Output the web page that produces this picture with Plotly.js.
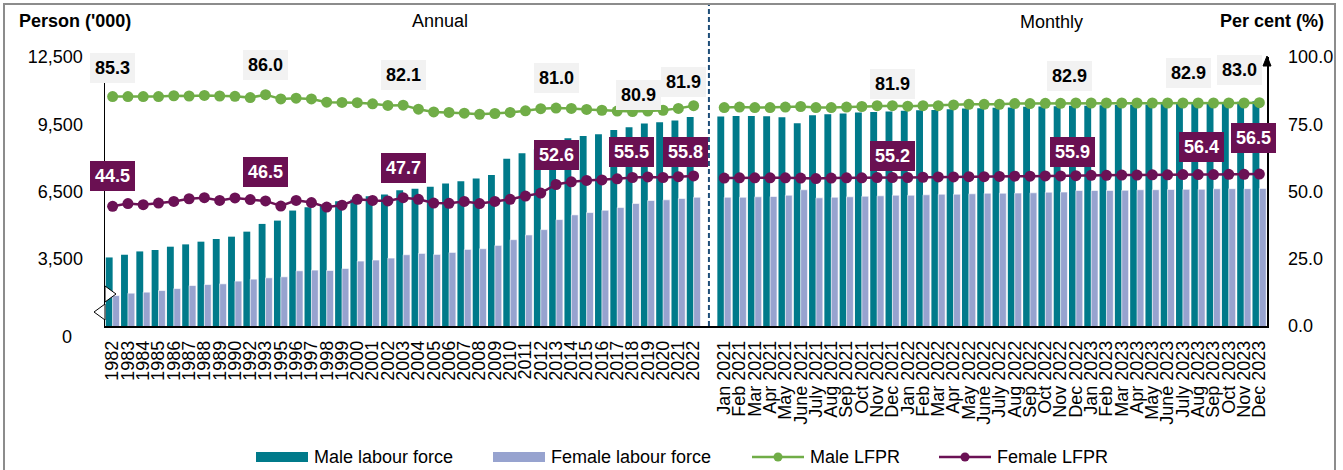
<!DOCTYPE html>
<html>
<head>
<meta charset="utf-8">
<script src="https://cdn.plot.ly/plotly-3.0.1.min.js"></script>
<style>
html,body{margin:0;padding:0;background:#ffffff;}
#wrap{position:relative;width:1343px;height:470px;overflow:hidden;}
#chart{position:absolute;left:0;top:0;width:1343px;height:470px;}
#frame{position:absolute;left:3px;top:3px;width:1329px;height:480px;border:2px solid #8c8c8c;pointer-events:none;}
</style>
</head>
<body>
<div id="wrap"><div id="chart"></div><div id="frame"></div></div>
<script>
// ---------------- DATA ----------------
const annualYears = ['1982','1983','1984','1985','1986','1987','1988','1989','1990','1992','1993',
  '1995','1996','1997','1998','1999','2000','2001','2002','2003','2004','2005','2006','2007','2008',
  '2009','2010','2011','2012','2013','2014','2015','2016','2017','2018','2019','2020','2021','2022'];

const monthLabels = ['Jan 2021','Feb 2021','Mar 2021','Apr 2021','May 2021','June 2021','July 2021','Aug 2021','Sep 2021','Oct 2021','Nov 2021','Dec 2021',
  'Jan 2022','Feb 2022','Mar 2022','Apr 2022','May 2022','June 2022','July 2022','Aug 2022','Sep 2022','Oct 2022','Nov 2022','Dec 2022',
  'Jan 2023','Feb 2023','Mar 2023','Apr 2023','May 2023','June 2023','July 2023','Aug 2023','Sep 2023','Oct 2023','Nov 2023','Dec 2023'];

// Labour force, person ('000)
const maleLabourAnnual = [3558,3679,3827,3890,4038,4141,4262,4382,4485,4709,5054,
  5202,5650,5798,5874,6066,6142,6290,6366,6559,6621,6711,6859,6962,7083,
  7231,7965,8202,8381,8605,8874,8977,9053,9246,9366,9532,9590,9667,9828];
const femaleLabourAnnual = [1857,1964,2009,2081,2170,2305,2349,2381,2502,2591,2649,
  2694,2963,2994,2976,3066,3397,3442,3531,3679,3738,3693,3782,3917,3948,
  4096,4351,4562,4800,5247,5457,5560,5663,5784,5963,6097,6129,6187,6245];
const maleLabourMonthly = [9846,9873,9873,9859,9814,9546,9904,9949,9980,10025,10052,10070,
  10097,10128,10140,10173,10204,10217,10231,10249,10276,10294,10307,10320,
  10330,10352,10360,10365,10383,10410,10441,10450,10472,10486,10499,10531];
const femaleLabourMonthly = [6245,6245,6263,6277,6335,6577,6217,6245,6263,6290,6308,6335,
  6335,6353,6380,6380,6398,6424,6424,6430,6442,6469,6475,6545,
  6545,6550,6555,6577,6580,6590,6595,6600,6622,6625,6628,6636];

// Labour force participation rate (%)
const maleLfprAnnual = [85.3,85.3,85.3,85.3,85.6,85.5,85.7,85.5,85.4,84.9,86.0,
  84.4,84.7,84.4,83.2,83.1,83.0,82.6,82.0,82.1,80.6,79.6,79.4,79.1,78.7,
  79.0,79.4,80.0,80.8,81.0,80.9,80.5,80.2,79.9,79.7,79.9,80.2,80.9,81.9];
const femaleLfprAnnual = [44.5,45.5,45.1,45.7,46.3,47.3,47.7,46.7,47.6,47.0,46.5,
  44.6,46.7,45.9,44.2,44.9,47.1,46.7,46.5,47.7,47.1,45.7,45.6,46.3,45.5,
  46.3,47.1,48.3,49.4,52.6,53.6,54.1,54.3,54.7,55.2,55.4,55.2,55.5,55.8];
const maleLfprMonthly = [81.2,81.4,81.2,81.2,81.4,81.6,81.2,81.2,81.4,81.6,81.9,81.9,
  81.7,81.9,81.9,82.2,82.4,82.4,82.4,82.7,82.7,82.8,82.8,82.9,
  82.9,82.9,82.9,82.9,82.9,82.9,82.9,82.9,82.9,82.9,82.9,83.0];
const femaleLfprMonthly = [55.0,55.1,55.1,55.1,55.1,55.0,54.8,55.0,55.1,55.1,55.2,55.2,
  55.2,55.3,55.4,55.4,55.5,55.5,55.6,55.7,55.7,55.8,55.8,55.9,
  56.0,56.0,56.1,56.1,56.2,56.2,56.3,56.3,56.3,56.4,56.4,56.5];

// categories whose LFPR values carry a data label
const labelledCategories = ['1982','1993','2003','2013','2021','2022','Dec 2021','Dec 2022','Nov 2023','Dec 2023'];

const leftTicks = [3500, 6500, 9500, 12500];
const rightTicks = [0, 25, 50, 75, 100];

const legendNames = ['Male labour force','Female labour force','Male LFPR','Female LFPR'];

// ---------------- STYLE / PLACEMENT ----------------
const FONT = '"Liberation Sans", Arial, sans-serif';
const C = {male:'#007A8A', female:'#97A3CF', maleLine:'#70AD47', femaleLine:'#6B1155',
           maleBox:'#F2F2F2', femaleBox:'#6A1052', divider:'#1F4E79'};
const PX = {W:1343, H:470, l:105, r:76, t:57, b:144};
const plotW = PX.W - PX.l - PX.r, plotH = PX.H - PX.t - PX.b;
const px2x = p => (p - PX.l) / plotW;
const px2y = p => (PX.H - PX.b - p) / plotH;

// label offsets [xshift, yshift] in px
const maleLabelShift = {'1982':[0,29],'1993':[0,30],'2003':[0,30],'2013':[0,30],'2021':[-40,13],'2022':[-10,24],
  'Dec 2021':[0,22],'Dec 2022':[-6,27],'Nov 2023':[-56,30],'Dec 2023':[-20,33]};
const femaleLabelShift = {'1982':[0,30],'1993':[0,29],'2003':[0,30],'2013':[0,30],'2021':[-47,25],'2022':[-8,24],
  'Dec 2021':[0,22],'Dec 2022':[-3,24],'Nov 2023':[-43,27],'Dec 2023':[-6,36]};

// ---------------- BUILD ----------------
const GAP = 'gap';
const categories = annualYears.concat([GAP], monthLabels);
const tickText = annualYears.concat([''], monthLabels);
const join = (a, m) => a.concat([null], m);
const maleLabour = join(maleLabourAnnual, maleLabourMonthly);
const femaleLabour = join(femaleLabourAnnual, femaleLabourMonthly);
const maleLfpr = join(maleLfprAnnual, maleLfprMonthly);
const femaleLfpr = join(femaleLfprAnnual, femaleLfprMonthly);

const traces = [
  {type:'bar', name:legendNames[0], x:categories, y:maleLabour, yaxis:'y',
   marker:{color:C.male, line:{width:0}}, hoverinfo:'x+y'},
  {type:'bar', name:legendNames[1], x:categories, y:femaleLabour, yaxis:'y',
   marker:{color:C.female, line:{color:'#ffffff', width:0.6}}, hoverinfo:'x+y'},
  {type:'scatter', mode:'lines+markers', name:legendNames[2], x:categories, y:maleLfpr, yaxis:'y2',
   connectgaps:false, line:{color:C.maleLine, width:2.5}, marker:{color:C.maleLine, size:11}},
  {type:'scatter', mode:'lines+markers', name:legendNames[3], x:categories, y:femaleLfpr, yaxis:'y2',
   connectgaps:false, line:{color:C.femaleLine, width:2.5}, marker:{color:C.femaleLine, size:11}}
];

const annotations = [];
labelledCategories.forEach(cat => {
  const i = categories.indexOf(cat);   // category index on the category axis
  const ms = maleLabelShift[cat], fs = femaleLabelShift[cat];
  annotations.push({x:i, y:maleLfpr[i], xref:'x', yref:'y2', text:'<b>' + maleLfpr[i].toFixed(1) + '</b>',
    showarrow:false, xshift:ms[0], yshift:ms[1], bgcolor:C.maleBox, borderpad:5, borderwidth:0,
    font:{family:FONT, size:18, color:'#000000'}});
  annotations.push({x:i, y:femaleLfpr[i], xref:'x', yref:'y2', text:'<b>' + femaleLfpr[i].toFixed(1) + '</b>',
    showarrow:false, xshift:fs[0], yshift:fs[1], bgcolor:C.femaleBox, borderpad:5, borderwidth:0,
    font:{family:FONT, size:18, color:'#ffffff'}});
});

// titles
const titleFont = {family:FONT, size:18, color:'#000000'};
annotations.push({xref:'paper', yref:'paper', x:px2x(17), y:px2y(21), xanchor:'left', yanchor:'middle',
  text:"<b>Person ('000)</b>", showarrow:false, font:titleFont});
annotations.push({xref:'paper', yref:'paper', x:px2x(1326), y:px2y(21), xanchor:'right', yanchor:'middle',
  text:'<b>Per cent (%)</b>', showarrow:false, font:titleFont});
annotations.push({xref:'paper', yref:'paper', x:px2x(440), y:px2y(21), xanchor:'center', yanchor:'middle',
  text:'Annual', showarrow:false, font:titleFont});
annotations.push({xref:'paper', yref:'paper', x:px2x(1051), y:px2y(22), xanchor:'center', yanchor:'middle',
  text:'Monthly', showarrow:false, font:titleFont});
// zero label of broken left axis
annotations.push({xref:'paper', yref:'paper', x:px2x(67), y:px2y(337), xanchor:'center', yanchor:'middle',
  text:'0', showarrow:false, font:titleFont});

// manual legend
const legY = 457;
const legItems = [
  {kind:'bar', color:C.male, x0:256, text:legendNames[0]},
  {kind:'bar', color:C.female, x0:493, text:legendNames[1]},
  {kind:'line', color:C.maleLine, x0:752, text:legendNames[2]},
  {kind:'line', color:C.femaleLine, x0:939, text:legendNames[3]}
];
const shapes = [];
legItems.forEach(it => {
  if (it.kind === 'bar') {
    shapes.push({type:'rect', xref:'paper', yref:'paper', x0:px2x(it.x0), x1:px2x(it.x0+52),
      y0:px2y(legY+5), y1:px2y(legY-5), fillcolor:it.color, line:{width:0}});
  } else {
    shapes.push({type:'line', xref:'paper', yref:'paper', x0:px2x(it.x0), x1:px2x(it.x0+52),
      y0:px2y(legY), y1:px2y(legY), line:{color:it.color, width:2.5}});
    shapes.push({type:'circle', xref:'paper', yref:'paper', x0:px2x(it.x0+21.5), x1:px2x(it.x0+30.5),
      y0:px2y(legY+4.5), y1:px2y(legY-4.5), fillcolor:it.color, line:{color:it.color, width:0}});
  }
  annotations.push({xref:'paper', yref:'paper', x:px2x(it.x0+56), y:px2y(legY), xanchor:'left', yanchor:'middle',
    text:it.text, showarrow:false, font:{family:FONT, size:18, color:'#000000'}});
});

// divider between annual and monthly
shapes.push({type:'line', xref:'x', yref:'paper', x0:GAP, x1:GAP, y0:0, y1:px2y(5),
  line:{color:C.divider, width:2, dash:'5px,3px'}, layer:'above'});
// axis break symbol on left axis
shapes.push({type:'path', xref:'paper', yref:'paper', xsizemode:'pixel', ysizemode:'pixel',
  xanchor:0, yanchor:px2y(303), path:'M0,17L11,9L0,1Z', fillcolor:'#ffffff', line:{color:'#000000', width:1}, layer:'above'});
shapes.push({type:'path', xref:'paper', yref:'paper', xsizemode:'pixel', ysizemode:'pixel',
  xanchor:0, yanchor:px2y(303), path:'M0,-1L-11,-9L0,-17Z', fillcolor:'#ffffff', line:{color:'#000000', width:1}, layer:'above'});
// arrow on right axis
shapes.push({type:'path', xref:'paper', yref:'paper', xsizemode:'pixel', ysizemode:'pixel',
  xanchor:1, yanchor:1, path:'M-4,-9L0,1L4,-9Z', fillcolor:'#000000', line:{color:'#000000', width:1}, layer:'above'});

const tickFont = {family:FONT, size:18, color:'#000000'};
const layout = {
  width:PX.W, height:PX.H,
  paper_bgcolor:'#ffffff', plot_bgcolor:'#ffffff',
  margin:{l:PX.l, r:PX.r, t:PX.t, b:PX.b, pad:0},
  showlegend:false,
  barmode:'group', bargap:0.1, bargroupgap:0,
  font:{family:FONT, size:18, color:'#000000'},
  xaxis:{type:'category', categoryorder:'array', categoryarray:categories,
    tickmode:'array', tickvals:categories, ticktext:tickText, tickangle:-90,
    tickfont:tickFont, ticks:'', showline:true, linecolor:'#000000', linewidth:1.5,
    showgrid:false, zeroline:false, range:[-0.5, categories.length-0.5], ticklabelstandoff:6},
  yaxis:{range:[500,12500], tickmode:'array', tickvals:leftTicks,
    ticktext:leftTicks.map(v => v.toLocaleString('en-US')), tickfont:tickFont, ticks:'',
    showline:true, linecolor:'#000000', linewidth:1.5, showgrid:false, zeroline:false, ticklabelstandoff:17},
  yaxis2:{overlaying:'y', side:'right', range:[0,100], tickmode:'array', tickvals:rightTicks,
    ticktext:rightTicks.map(v => v.toFixed(1)), tickfont:tickFont, ticks:'',
    showline:true, linecolor:'#000000', linewidth:1.5, showgrid:false, zeroline:false, ticklabelstandoff:16},
  annotations:annotations,
  shapes:shapes
};

Plotly.newPlot('chart', traces, layout, {staticPlot:true, displayModeBar:false});
</script>
</body>
</html>
